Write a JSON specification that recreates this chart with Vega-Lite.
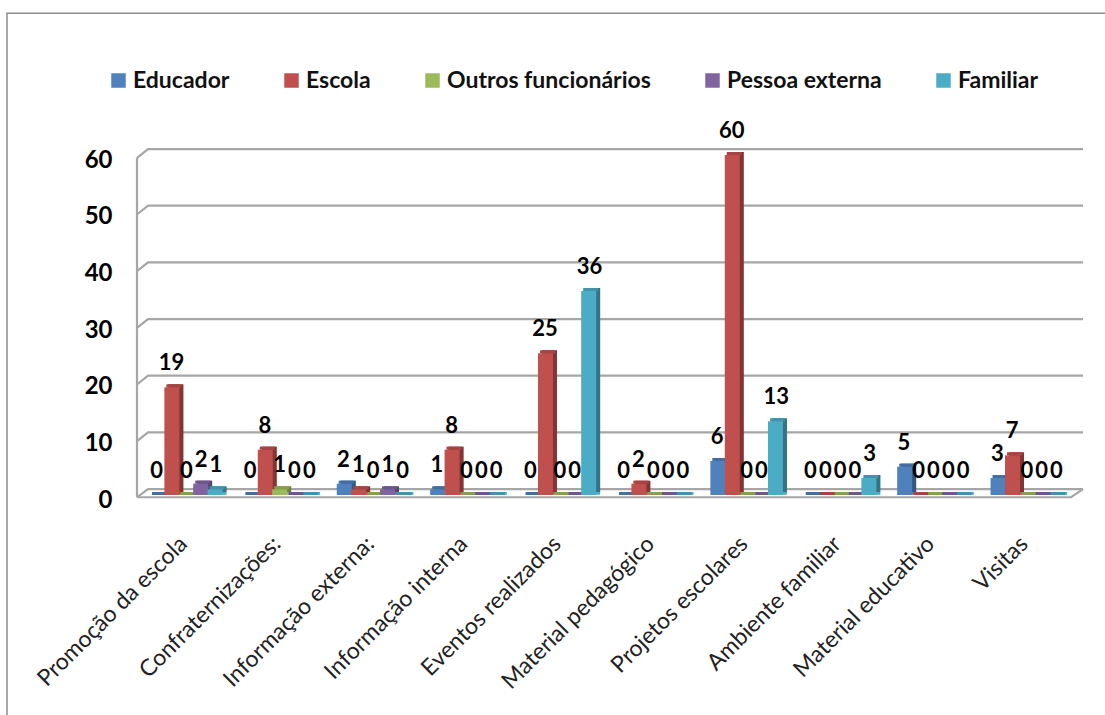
{
  "$schema": "https://vega.github.io/schema/vega-lite/v6.json",
  "width": 934,
  "height": 340,
  "autosize": "none",
  "padding": {"left": 137, "top": 155, "right": 34, "bottom": 220},
  "background": "white",
  "config": {"view": {"stroke": null}, "font": "Lato"},
  "datasets": {
    "bars": [
      {"cat":"Promoção da escola","s":"Educador","v":0},{"cat":"Promoção da escola","s":"Escola","v":19},{"cat":"Promoção da escola","s":"Outros funcionários","v":0},{"cat":"Promoção da escola","s":"Pessoa externa","v":2},{"cat":"Promoção da escola","s":"Familiar","v":1},
      {"cat":"Confraternizações:","s":"Educador","v":0},{"cat":"Confraternizações:","s":"Escola","v":8},{"cat":"Confraternizações:","s":"Outros funcionários","v":1},{"cat":"Confraternizações:","s":"Pessoa externa","v":0},{"cat":"Confraternizações:","s":"Familiar","v":0},
      {"cat":"Informação externa:","s":"Educador","v":2},{"cat":"Informação externa:","s":"Escola","v":1},{"cat":"Informação externa:","s":"Outros funcionários","v":0},{"cat":"Informação externa:","s":"Pessoa externa","v":1},{"cat":"Informação externa:","s":"Familiar","v":0},
      {"cat":"Informação interna","s":"Educador","v":1},{"cat":"Informação interna","s":"Escola","v":8},{"cat":"Informação interna","s":"Outros funcionários","v":0},{"cat":"Informação interna","s":"Pessoa externa","v":0},{"cat":"Informação interna","s":"Familiar","v":0},
      {"cat":"Eventos realizados","s":"Educador","v":0},{"cat":"Eventos realizados","s":"Escola","v":25},{"cat":"Eventos realizados","s":"Outros funcionários","v":0},{"cat":"Eventos realizados","s":"Pessoa externa","v":0},{"cat":"Eventos realizados","s":"Familiar","v":36},
      {"cat":"Material pedagógico","s":"Educador","v":0},{"cat":"Material pedagógico","s":"Escola","v":2},{"cat":"Material pedagógico","s":"Outros funcionários","v":0},{"cat":"Material pedagógico","s":"Pessoa externa","v":0},{"cat":"Material pedagógico","s":"Familiar","v":0},
      {"cat":"Projetos escolares","s":"Educador","v":6},{"cat":"Projetos escolares","s":"Escola","v":60},{"cat":"Projetos escolares","s":"Outros funcionários","v":0},{"cat":"Projetos escolares","s":"Pessoa externa","v":0},{"cat":"Projetos escolares","s":"Familiar","v":13},
      {"cat":"Ambiente familiar","s":"Educador","v":0},{"cat":"Ambiente familiar","s":"Escola","v":0},{"cat":"Ambiente familiar","s":"Outros funcionários","v":0},{"cat":"Ambiente familiar","s":"Pessoa externa","v":0},{"cat":"Ambiente familiar","s":"Familiar","v":3},
      {"cat":"Material educativo","s":"Educador","v":5},{"cat":"Material educativo","s":"Escola","v":0},{"cat":"Material educativo","s":"Outros funcionários","v":0},{"cat":"Material educativo","s":"Pessoa externa","v":0},{"cat":"Material educativo","s":"Familiar","v":0},
      {"cat":"Visitas","s":"Educador","v":3},{"cat":"Visitas","s":"Escola","v":7},{"cat":"Visitas","s":"Outros funcionários","v":0},{"cat":"Visitas","s":"Pessoa externa","v":0},{"cat":"Visitas","s":"Familiar","v":0}
    ],
    "walls": [
      {"k":"g0","o":1,"u":0,"l":-0.4},{"k":"g0","o":2,"u":11,"l":1.05},{"k":"g0","o":3,"u":946,"l":1.05},
      {"k":"g10","o":1,"u":0,"l":9.5},{"k":"g10","o":2,"u":11,"l":11.05},{"k":"g10","o":3,"u":946,"l":11.05},
      {"k":"g20","o":1,"u":0,"l":19.5},{"k":"g20","o":2,"u":11,"l":21.05},{"k":"g20","o":3,"u":946,"l":21.05},
      {"k":"g30","o":1,"u":0,"l":29.5},{"k":"g30","o":2,"u":11,"l":31.05},{"k":"g30","o":3,"u":946,"l":31.05},
      {"k":"g40","o":1,"u":0,"l":39.5},{"k":"g40","o":2,"u":11,"l":41.05},{"k":"g40","o":3,"u":946,"l":41.05},
      {"k":"g50","o":1,"u":0,"l":49.5},{"k":"g50","o":2,"u":11,"l":51.05},{"k":"g50","o":3,"u":946,"l":51.05},
      {"k":"g60","o":1,"u":0,"l":59.5},{"k":"g60","o":2,"u":11,"l":61.05},{"k":"g60","o":3,"u":946,"l":61.05},
      {"k":"axis","o":1,"u":0,"l":-0.4},{"k":"axis","o":2,"u":0,"l":59.5},
      {"k":"floor","o":1,"u":0,"l":-0.4},{"k":"floor","o":2,"u":934,"l":-0.4},{"k":"floor","o":3,"u":946,"l":1.05}
    ],
    "frame": [
      {"o":1,"u":-130,"l":-39},{"o":2,"u":-130,"l":85},{"o":3,"u":968,"l":85}
    ]
  },
  "layer": [
    {
      "data": {"name": "frame"},
      "mark": {"type": "line", "color": "#8c8c8c", "strokeWidth": 1.5, "clip": false},
      "encoding": {
        "order": {"field": "o", "type": "ordinal"},
        "x": {"field": "u", "type": "quantitative", "axis": null, "scale": {"domain": [0, 934], "nice": false, "zero": false}},
        "y": {"field": "l", "type": "quantitative", "scale": {"domain": [0, 60], "nice": false}, "axis": {"orient": "left", "values": [0,10,20,30,40,50,60], "domain": false, "ticks": false, "grid": false, "title": null, "labelFont": "Lato", "labelFontWeight": "bold", "labelFontSize": 24, "labelColor": "#000", "labelPadding": 25, "labelOffset": 5}}
      }
    },
    {
      "data": {"name": "walls"},
      "mark": {"type": "line", "color": "#a6a6a6", "strokeWidth": 2.2, "clip": false},
      "encoding": {
        "detail": {"field": "k"},
        "order": {"field": "o", "type": "ordinal"},
        "x": {"field": "u", "type": "quantitative", "axis": null, "scale": {"domain": [0, 934], "nice": false, "zero": false}},
        "y": {"field": "l", "type": "quantitative"}
      }
    },
    {
      "data": {"name": "bars"},
      "resolve": {"scale": {"xOffset": "independent"}},
      "encoding": {
        "x": {"field": "cat", "type": "nominal", "sort": null, "scale": {"paddingInner": 0.22, "paddingOuter": 0.11}, "axis": {"orient": "bottom", "title": null, "domain": false, "ticks": false, "labelAngle": -45, "labelAlign": "right", "labelBaseline": "middle", "labelPadding": 45, "labelFont": "Lato", "labelFontSize": 23, "labelColor": "#222", "labelLimit": 400, "labelOverlap": false}}
      },
      "layer": [
        {
          "mark": {"type": "bar", "yOffset": -3, "y2Offset": -3, "width": 15},
          "encoding": {
            "xOffset": {"field": "s", "sort": ["Educador","Escola","Outros funcionários","Pessoa externa","Familiar"], "scale": {"range": [7, 79]}},
            "y": {"field": "v", "type": "quantitative"},
            "y2": {"datum": -0.5},
            "color": {"field": "s", "legend": {"orient": "none", "legendX": -30, "legendY": -86, "direction": "horizontal", "columns": 5, "gridAlign": "none", "title": null, "symbolType": "square", "symbolSize": 210, "symbolStrokeWidth": 0, "labelFont": "Lato", "labelFontWeight": "bold", "labelFontSize": 23, "labelColor": "#111", "columnPadding": 50, "labelOffset": 3, "labelLimit": 300}, "scale": {"domain": ["Educador","Escola","Outros funcionários","Pessoa externa","Familiar"], "range": ["#4F81BD","#C0504D","#9BBB59","#8064A2","#4BACC6"]}}
          }
        },
        {
          "mark": {"type": "bar", "yOffset": -3, "y2Offset": -3, "width": 15, "color": "#000", "opacity": 0.32},
          "encoding": {
            "xOffset": {"field": "s", "sort": ["Educador","Escola","Outros funcionários","Pessoa externa","Familiar"], "scale": {"range": [7, 79]}},
            "y": {"field": "v", "type": "quantitative"},
            "y2": {"datum": 0}
          }
        },
        {
          "mark": {"type": "bar", "yOffset": -3, "y2Offset": 0, "width": 15},
          "encoding": {
            "xOffset": {"field": "s", "sort": ["Educador","Escola","Outros funcionários","Pessoa externa","Familiar"], "scale": {"range": [5, 77]}},
            "y": {"field": "v", "type": "quantitative"},
            "y2": {"field": "v"},
            "color": {"field": "s"}
          }
        },
        {
          "mark": {"type": "bar", "yOffset": -3, "y2Offset": 0, "width": 15, "color": "#000", "opacity": 0.14},
          "encoding": {
            "xOffset": {"field": "s", "sort": ["Educador","Escola","Outros funcionários","Pessoa externa","Familiar"], "scale": {"range": [5, 77]}},
            "y": {"field": "v", "type": "quantitative"},
            "y2": {"field": "v"}
          }
        },
        {
          "mark": {"type": "bar", "width": 15},
          "encoding": {
            "xOffset": {"field": "s", "sort": ["Educador","Escola","Outros funcionários","Pessoa externa","Familiar"], "scale": {"range": [3, 75]}},
            "y": {"field": "v", "type": "quantitative"},
            "y2": {"datum": 0},
            "color": {"field": "s"}
          }
        },
        {
          "mark": {"type": "text", "fontWeight": "bold", "fontSize": 22, "font": "Lato", "color": "#000", "yOffset": -24, "align": "center", "baseline": "middle"},
          "encoding": {
            "xOffset": {"field": "s", "sort": ["Educador","Escola","Outros funcionários","Pessoa externa","Familiar"], "scale": {"range": [2, 76]}},
            "y": {"field": "v", "type": "quantitative"},
            "text": {"field": "v", "type": "quantitative"}
          }
        }
      ]
    }
  ],
  "resolve": {"scale": {"x": "independent"}}
}
